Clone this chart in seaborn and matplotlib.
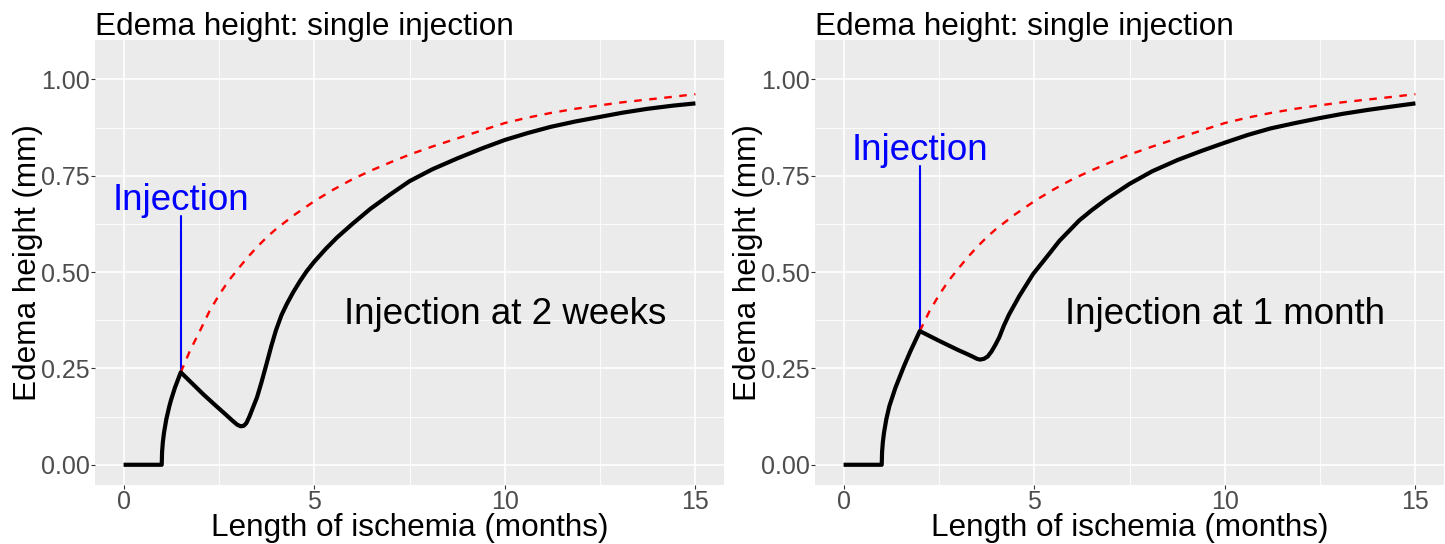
import matplotlib
matplotlib.use("Agg")
import matplotlib.pyplot as plt
import numpy as np
import pandas as pd
import seaborn as sns

# ---------------- data ----------------
months_2wk = [0.0, 1.0, 1.01, 1.03, 1.06, 1.12, 1.2, 1.25, 1.35, 1.5,
              1.8, 2.1, 2.4, 2.65, 2.85, 2.98, 3.07, 3.15, 3.22, 3.3, 3.4,
              3.5, 3.62, 3.75, 3.88, 4.0, 4.14, 4.28, 4.45, 4.63, 4.8, 5.0,
              5.3, 5.6, 6.0, 6.47, 7.0, 7.5, 8.1, 8.75, 9.4, 10.0, 10.6,
              11.2, 11.85, 12.5, 13.1, 13.75, 14.4, 15.0]
edema_2wk = [0.0, 0.0, 0.034, 0.059, 0.083, 0.118, 0.152, 0.170, 0.201, 0.240,
             0.211, 0.182, 0.155, 0.133, 0.115, 0.104, 0.100, 0.101, 0.108, 0.125, 0.150,
             0.175, 0.215, 0.262, 0.310, 0.350, 0.388, 0.417, 0.448, 0.477, 0.502, 0.527,
             0.560, 0.590, 0.625, 0.664, 0.702, 0.736, 0.767, 0.795, 0.821, 0.843, 0.861,
             0.877, 0.891, 0.903, 0.914, 0.924, 0.932, 0.938]

months_1mo = [0.0, 1.0, 1.01, 1.03, 1.06, 1.12, 1.2, 1.36, 1.58, 1.75, 2.0,
              2.5, 3.0, 3.25, 3.4, 3.5, 3.58, 3.68, 3.78, 3.88, 3.98, 4.08,
              4.2, 4.34, 4.61, 4.97, 5.39, 5.66, 6.18, 6.5, 6.89, 7.5, 8.1, 8.76,
              9.4, 10.0, 10.6, 11.2, 11.85, 12.5, 13.1, 13.75, 14.4, 15.0]
edema_1mo = [0.0, 0.0, 0.034, 0.059, 0.083, 0.118, 0.152, 0.200, 0.255, 0.294, 0.347,
             0.322, 0.298, 0.287, 0.280, 0.275, 0.273, 0.275, 0.281, 0.294, 0.311, 0.330,
             0.360, 0.390, 0.438, 0.495, 0.547, 0.581, 0.634, 0.660, 0.689, 0.729, 0.762, 0.791,
             0.815, 0.836, 0.856, 0.873, 0.887, 0.900, 0.911, 0.921, 0.930, 0.938]

untreated_months = [1.5, 1.75, 2.0, 2.25, 2.5, 2.75, 3.0, 3.25, 3.5, 3.75, 4.0,
                    4.5, 5.0, 5.5, 6.0, 6.5, 7.0, 7.5, 8.1, 8.75, 9.4, 10.0,
                    10.6, 11.2, 11.85, 12.5, 13.1, 13.75, 14.4, 15.0]
untreated_edema = [0.240, 0.298, 0.347, 0.398, 0.440, 0.477, 0.508, 0.538, 0.565, 0.590, 0.612,
                   0.650, 0.684, 0.714, 0.741, 0.764, 0.785, 0.805, 0.826, 0.847, 0.868, 0.887,
                   0.901, 0.913, 0.924, 0.933, 0.941, 0.948, 0.955, 0.962]

injection_time = [1.5, 2.0]
injection_level = [0.240, 0.347]
marker_top = [0.645, 0.775]
marker_label_y = [0.66, 0.79]
panel_notes = ["Injection at 2 weeks", "Injection at 1 month"]
note_x = 10.0
note_y = 0.366
panel_title = "Edema height: single injection"
x_label = "Length of ischemia (months)"
y_label = "Edema height (mm)"
x_ticks = [0, 5, 10, 15]
y_ticks = [0.0, 0.25, 0.50, 0.75, 1.00]
y_tick_labels = ["0.00", "0.25", "0.50", "0.75", "1.00"]

# ---------------- style ----------------
sns.set_theme(style="darkgrid", rc={
    "axes.facecolor": "#EBEBEB",
    "grid.color": "white",
    "axes.edgecolor": "#EBEBEB",
})
plt.rcParams["font.family"] = ["Liberation Sans", "DejaVu Sans"]

W, H = 1445, 544
fig = plt.figure(figsize=(W / 100, H / 100), dpi=100)
fig.patch.set_facecolor("white")

ax_w = 629 / W
ax_h = 445 / H
ax_b = (H - 485) / H
panels = [
    (95 / W, months_2wk, edema_2wk),
    (815 / W, months_1mo, edema_1mo),
]

for i, (left, mx, my) in enumerate(panels):
    ax = fig.add_axes([left, ax_b, ax_w, ax_h])
    black = pd.DataFrame({"x": mx, "y": my})
    red = pd.DataFrame({"x": untreated_months, "y": untreated_edema})
    red = red[red["x"] >= injection_time[i] - 1e-9]
    marker = pd.DataFrame({"x": [injection_time[i], injection_time[i]],
                           "y": [injection_level[i], marker_top[i]]})

    sns.lineplot(data=marker, x="x", y="y", ax=ax, color="blue", lw=1.5,
                 estimator=None, sort=False)
    sns.lineplot(data=red, x="x", y="y", ax=ax, color="red", lw=1.7,
                 linestyle=(0, (3.2, 3.2)), estimator=None, sort=False)
    sns.lineplot(data=black, x="x", y="y", ax=ax, color="black", lw=3.0,
                 estimator=None, sort=False, solid_capstyle="butt",
                 solid_joinstyle="round")

    ax.text(injection_time[i], marker_label_y[i], "Injection", color="blue",
            fontsize=26.5, ha="center", va="baseline")
    ax.text(note_x, note_y, panel_notes[i], color="black",
            fontsize=26.5, ha="center", va="baseline")

    ax.set_xlim(-0.75, 15.75)
    ax.set_ylim(-0.0525, 1.1025)
    ax.set_xticks(x_ticks)
    ax.set_xticklabels([str(t) for t in x_ticks])
    ax.set_yticks(y_ticks)
    ax.set_yticklabels(y_tick_labels)
    ax.set_xticks([2.5, 7.5, 12.5], minor=True)
    ax.set_yticks([0.125, 0.375, 0.625, 0.875], minor=True)
    ax.grid(which="major", color="white", lw=1.2)
    ax.grid(which="minor", color="white", lw=0.6)
    ax.tick_params(axis="both", which="major", length=2.75, width=0.8,
                   color="#333333", labelcolor="#4D4D4D", labelsize=18,
                   bottom=True, left=True)
    ax.tick_params(axis="x", which="major", pad=0.5)
    ax.tick_params(axis="y", which="major", pad=1.2)
    ax.tick_params(which="minor", length=0)
    for s in ax.spines.values():
        s.set_visible(False)

    ax.set_title(panel_title, loc="left", fontsize=22.7, pad=3.8, color="black")
    ax.set_xlabel(x_label, fontsize=22.7, color="black")
    ax.set_ylabel(y_label, fontsize=22.7, color="black")
    ax.xaxis.set_label_coords(0.5, -(536 - 485) / 445)
    ax.xaxis.label.set_verticalalignment("baseline")
    ax.yaxis.set_label_coords(-(95 - 28) / 629, 0.5)
    ax.yaxis.label.set_verticalalignment("center")

fig.savefig("out.png", dpi=100, facecolor="white")
